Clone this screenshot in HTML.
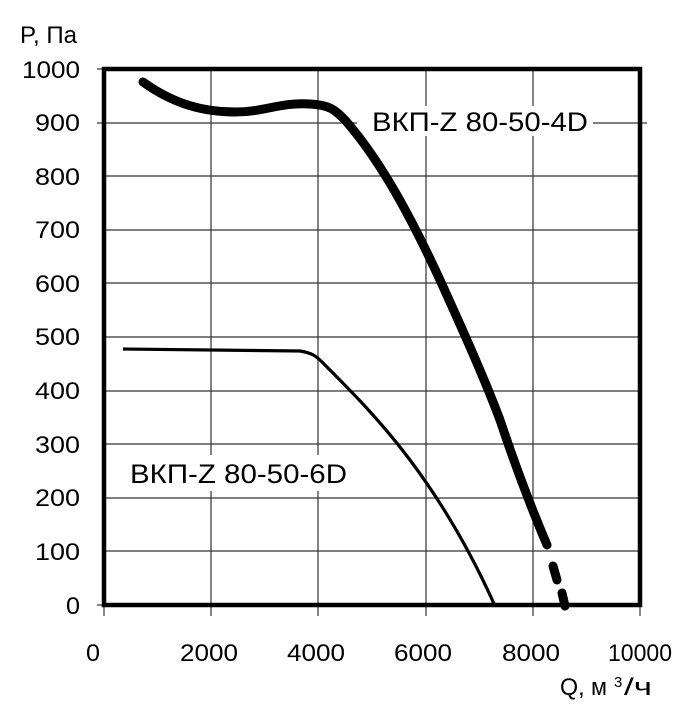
<!DOCTYPE html>
<html><head><meta charset="utf-8"><style>
body{margin:0;background:#fff}
svg text{font-family:"Liberation Sans","DejaVu Sans",sans-serif;fill:#000}
</style></head><body>
<svg width="677" height="710" viewBox="0 0 677 710" xmlns="http://www.w3.org/2000/svg">
<g stroke="#333" stroke-width="1.2">
<line x1="211" y1="69" x2="211" y2="605"/><line x1="318" y1="69" x2="318" y2="605"/>
<line x1="426" y1="69" x2="426" y2="605"/><line x1="533" y1="69" x2="533" y2="605"/>
<line x1="97" y1="123" x2="647" y2="123"/><line x1="104" y1="176" x2="640" y2="176"/>
<line x1="104" y1="230" x2="640" y2="230"/><line x1="104" y1="283" x2="640" y2="283"/>
<line x1="104" y1="337" x2="640" y2="337"/><line x1="104" y1="391" x2="640" y2="391"/>
<line x1="104" y1="444" x2="640" y2="444"/><line x1="104" y1="498" x2="640" y2="498"/>
<line x1="104" y1="551" x2="640" y2="551"/>
<line x1="104" y1="605" x2="104" y2="616"/><line x1="211" y1="605" x2="211" y2="616"/><line x1="318" y1="605" x2="318" y2="616"/><line x1="426" y1="605" x2="426" y2="616"/><line x1="533" y1="605" x2="533" y2="616"/><line x1="640" y1="605" x2="640" y2="616"/>
<line x1="97" y1="69" x2="104" y2="69"/><line x1="97" y1="605" x2="104" y2="605"/>
</g>
<rect x="104" y="69" width="536" height="536" fill="none" stroke="#000" stroke-width="4.5"/>
<rect x="357" y="106" width="236" height="30" fill="#fff"/>
<path d="M143,82 C175,105 205,112 235,112 C265,112 280,102 310,104 C330,105 335,110 345,120 C380,160 410,215 440,280 C465,335 485,380 500,420 C515,465 530,505 547,545" fill="none" stroke="#000" stroke-width="9" stroke-linecap="round"/>
<path d="M553,566 L557,580 M562,593 L565,606" fill="none" stroke="#000" stroke-width="9" stroke-linecap="round"/>
<path d="M123,349 L300,351 C312,353 316,356 322,362 C350,390 380,420 410,460 C440,500 470,550 495,606" fill="none" stroke="#000" stroke-width="3.2"/>
<rect x="126" y="455" width="230" height="36" fill="#fff"/>
<g font-size="24">
<text x="20" y="43" textLength="57" lengthAdjust="spacingAndGlyphs">P, Па</text>
<text x="22" y="78" textLength="58" lengthAdjust="spacingAndGlyphs">1000</text>
<text x="35" y="131" textLength="45" lengthAdjust="spacingAndGlyphs">900</text>
<text x="35" y="185" textLength="45" lengthAdjust="spacingAndGlyphs">800</text>
<text x="35" y="238" textLength="45" lengthAdjust="spacingAndGlyphs">700</text>
<text x="35" y="292" textLength="45" lengthAdjust="spacingAndGlyphs">600</text>
<text x="35" y="345" textLength="45" lengthAdjust="spacingAndGlyphs">500</text>
<text x="35" y="399" textLength="45" lengthAdjust="spacingAndGlyphs">400</text>
<text x="35" y="453" textLength="45" lengthAdjust="spacingAndGlyphs">300</text>
<text x="35" y="506" textLength="45" lengthAdjust="spacingAndGlyphs">200</text>
<text x="35" y="560" textLength="45" lengthAdjust="spacingAndGlyphs">100</text>
<text x="66" y="614" textLength="14" lengthAdjust="spacingAndGlyphs">0</text>
<text x="86" y="661" textLength="14" lengthAdjust="spacingAndGlyphs">0</text>
<text x="180" y="661" textLength="58" lengthAdjust="spacingAndGlyphs">2000</text>
<text x="287" y="661" textLength="58" lengthAdjust="spacingAndGlyphs">4000</text>
<text x="394" y="661" textLength="58" lengthAdjust="spacingAndGlyphs">6000</text>
<text x="502" y="661" textLength="58" lengthAdjust="spacingAndGlyphs">8000</text>
<text x="608" y="661" textLength="64" lengthAdjust="spacingAndGlyphs">10000</text>
<text x="560" y="695" textLength="47" lengthAdjust="spacingAndGlyphs">Q, м</text><text x="614" y="687" font-size="15">3</text><text x="624" y="695" textLength="28" lengthAdjust="spacingAndGlyphs">/ч</text>
<text x="372" y="131" font-size="27" textLength="216" lengthAdjust="spacingAndGlyphs">ВКП-Z 80-50-4D</text>
<text x="130" y="483" font-size="27" textLength="217" lengthAdjust="spacingAndGlyphs">ВКП-Z 80-50-6D</text>
</g>
</svg>
</body></html>
